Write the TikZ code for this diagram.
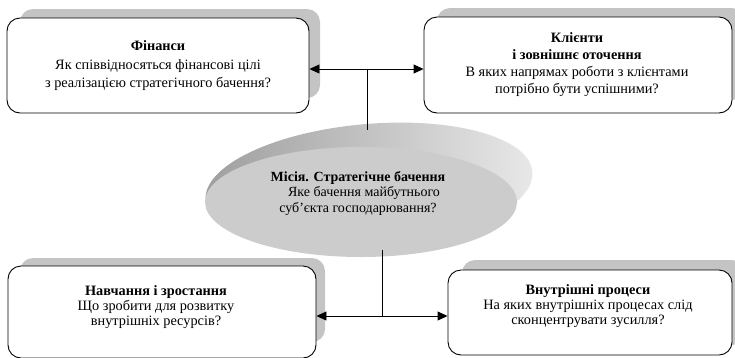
\documentclass[tikz,border=0pt]{standalone}
\usepackage{fontspec}
\setmainfont{Liberation Serif}
\usetikzlibrary{shapes.geometric,arrows.meta}
\begin{document}
\begin{tikzpicture}[x=1pt,y=-1pt,
  card/.style={draw=black,line width=0.9pt,fill=white,rounded corners=13pt,inner sep=0pt},
  shade/.style={fill=black!23,draw=none,rounded corners=13pt},
  txt/.style={align=center,font=\fontsize{14}{15.5}\selectfont,inner sep=0pt},
  conn/.style={line width=0.9pt},
  dbl/.style={line width=0.9pt,{Triangle[length=10pt,width=9pt]}-{Triangle[length=10pt,width=9pt]}}]
\useasboundingbox (0,0) rectangle (735,357);
% shadows
\fill[shade] (20,9) rectangle (320,98);
\fill[shade] (437,8) rectangle (745,100);
\fill[shade] (20,258) rectangle (325,342);
\fill[shade] (462,260) rectangle (745,345);
% boxes
\node[card,minimum width=302pt,minimum height=95pt] (fin) at (158,65.5) {};
\node[card,minimum width=308pt,minimum height=96pt] (cli) at (578,65) {};
\node[card,minimum width=308pt,minimum height=92pt] (lrn) at (162,312) {};
\node[card,minimum width=284pt,minimum height=85pt] (prc) at (590,312.5) {};
% texts
\node[txt,font=\fontsize{14.3}{18.5}\selectfont] (fint) at (158,66) {\textbf{Фінанси}\\Як співвідносяться фінансові цілі\\з реалізацією стратегічного бачення?};
\node[txt,font=\fontsize{14.3}{17}\selectfont] (clit) at (577,65) {\textbf{Клієнти}\\\textbf{і зовнішнє оточення}\\В яких напрямах роботи з клієнтами\\потрібно бути успішними?};
\node[txt,font=\fontsize{14.3}{15}\selectfont] (lrnt) at (156,307) {\textbf{Навчання і зростання}\\Що зробити для розвитку\\внутрішніх ресурсів?};
\node[txt,font=\fontsize{14.3}{15}\selectfont] (prct) at (588,306) {\textbf{Внутрішні процеси}\\На яких внутрішніх процесах слід\\сконцентрувати зусилля?};
% mission disc
\node[ellipse,draw=none,left color=black!38,middle color=black!32,right color=black!9,rotate=5,minimum width=328pt,minimum height=124pt,inner sep=0pt] (rim) at (369,186) {};
\node[ellipse,draw=none,fill=black!20,minimum width=312pt,minimum height=110pt,inner sep=0pt] (mis) at (361,202) {};
\node[txt] (mist) at (358,193) {\textbf{Місія. Стратегічне бачення}\\\hspace*{12pt}Яке бачення майбутнього\\суб’єкта господарювання?};
% connectors
\coordinate (ta) at (367,69);
\coordinate (tb) at (367,130);
\coordinate (ba) at (382,250);
\coordinate (bb) at (382,316);
\draw[dbl] (fin.east |- ta) -- (cli.west |- ta);
\draw[conn] (ta) -- (tb);
\draw[dbl] (lrn.east |- bb) -- (prc.west |- bb);
\draw[conn] (ba) -- (bb);
\end{tikzpicture}
\end{document}
